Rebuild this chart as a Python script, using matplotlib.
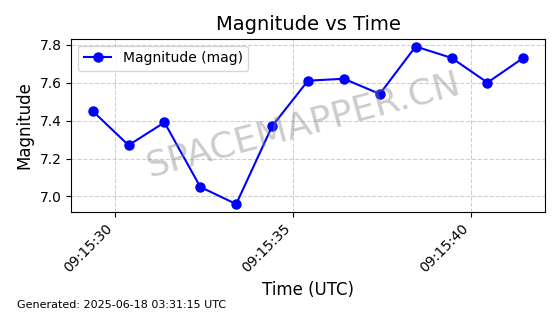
import numpy as np
import pandas as pd
import matplotlib
matplotlib.use("Agg")
import matplotlib.pyplot as plt
import matplotlib.dates as mdates

times = [
    "2025-06-18 09:15:29.383", "2025-06-18 09:15:30.390", "2025-06-18 09:15:31.398",
    "2025-06-18 09:15:32.405", "2025-06-18 09:15:33.412", "2025-06-18 09:15:34.420",
    "2025-06-18 09:15:35.427", "2025-06-18 09:15:36.435", "2025-06-18 09:15:37.442",
    "2025-06-18 09:15:38.449", "2025-06-18 09:15:39.457", "2025-06-18 09:15:40.464",
    "2025-06-18 09:15:41.472",
]
magnitudes = [7.45, 7.27, 7.39, 7.05, 6.96, 7.37, 7.61, 7.62, 7.54, 7.79, 7.73, 7.60, 7.73]
generated = "Generated: 2025-06-18 03:31:15 UTC"

t = pd.to_datetime(times)

fig, ax = plt.subplots(figsize=(5.6, 3.14), dpi=100)
fig.subplots_adjust(left=0.127, right=0.973, top=0.877, bottom=0.325)

ax.plot(t, magnitudes, color="blue", marker="o", markersize=6.5, lw=1.5,
        label="Magnitude (mag)")

ax.set_title("Magnitude vs Time", fontsize=14)
ax.set_xlabel("Time (UTC)", fontsize=12)
ax.set_ylabel("Magnitude", fontsize=12)
ax.grid(True, linestyle="--", alpha=0.6)
ax.legend(loc="upper left", fontsize=10)

ax.xaxis.set_major_locator(mdates.SecondLocator(bysecond=range(0, 60, 5)))
ax.xaxis.set_major_formatter(mdates.DateFormatter("%H:%M:%S"))
plt.setp(ax.get_xticklabels(), rotation=45, ha="right")

# watermark
ax.text(0.49, 0.5, "SPACEMAPPER.CN", transform=ax.transAxes, fontsize=26,
        color="gray", alpha=0.4, rotation=15, ha="center", va="center")

fig.text(0.03, 0.02, generated, fontsize=8)

fig.savefig("out.png", dpi=100)
